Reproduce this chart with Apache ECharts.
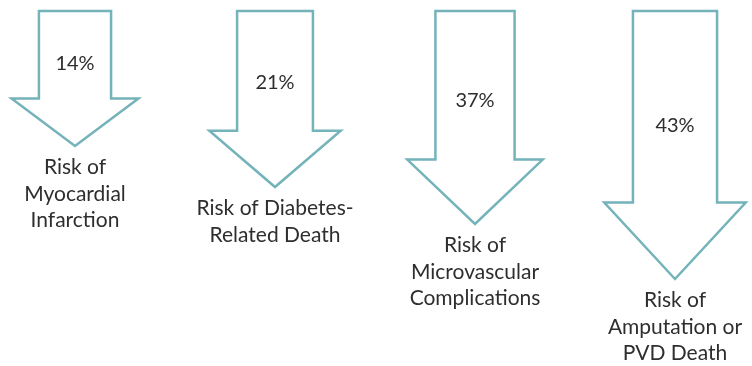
<!DOCTYPE html>
<html>
<head>
<meta charset="utf-8">
<script src="https://cdn.jsdelivr.net/npm/echarts@6/dist/echarts.min.js"></script>
<style>
  html, body { margin: 0; padding: 0; background: #fff; }
  #main { width: 752px; height: 366px; }
</style>
</head>
<body>
<div id="main"></div>
<script>
// labels under each arrow
var categories = [
  'Risk of\nMyocardial\nInfarction',
  'Risk of Diabetes-\nRelated Death',
  'Risk of\nMicrovascular\nComplications',
  'Risk of\nAmputation or\nPVD Death'
];
// risk reduction shown in each arrow
var reductionPct = [14, 21, 37, 43];
// depth of each arrow as drawn (axis units)
var arrowLength = [135, 176, 213, 268];

var myChart = echarts.init(document.getElementById('main'));

var seriesData = arrowLength.map(function (v, i) { return [i, v]; });

function renderArrow(params, api) {
  var i = api.value(0);
  var len = api.value(1);
  var top = api.coord([i, 0]);
  var tip = api.coord([i, len]);
  var h = tip[1] - top[1];
  var cx = top[0];
  var headH = 18 + 0.218 * h;      // head gets a bit taller with length
  var shaftHalf = 30 + 0.045 * h;
  var headHalf = 56 + 0.055 * h;
  var headY = tip[1] - headH;
  var pts = [
    [cx - shaftHalf, top[1]],
    [cx + shaftHalf, top[1]],
    [cx + shaftHalf, headY],
    [cx + headHalf, headY],
    [cx, tip[1]],
    [cx - headHalf, headY],
    [cx - shaftHalf, headY]
  ];
  return {
    type: 'group',
    children: [
      {
        type: 'polygon',
        shape: { points: pts },
        style: { fill: '#fff', stroke: '#73b3b9', lineWidth: 2.5, lineJoin: 'miter' }
      },
      {
        type: 'text',
        style: {
          x: cx, y: top[1] + 0.6 * (headY - top[1]),
          text: reductionPct[i] + '%',
          fill: '#2e2e2e', font: '20px Lato',
          align: 'center', verticalAlign: 'middle'
        }
      },
      {
        type: 'text',
        style: {
          x: cx, y: tip[1] + 8,
          text: categories[i],
          fill: '#2e2e2e', font: '21px Lato', lineHeight: 26.5,
          align: 'center', verticalAlign: 'top'
        }
      }
    ]
  };
}

var option = {
  animation: false,
  grid: { left: 0, right: 0, top: 11, bottom: 11 },
  xAxis: { type: 'value', min: -0.375, max: 3.385, show: false },
  yAxis: { type: 'value', inverse: true, min: 0, max: 344, show: false },
  series: [{
    type: 'custom',
    renderItem: renderArrow,
    data: seriesData
  }]
};
myChart.setOption(option);
</script>
</body>
</html>
